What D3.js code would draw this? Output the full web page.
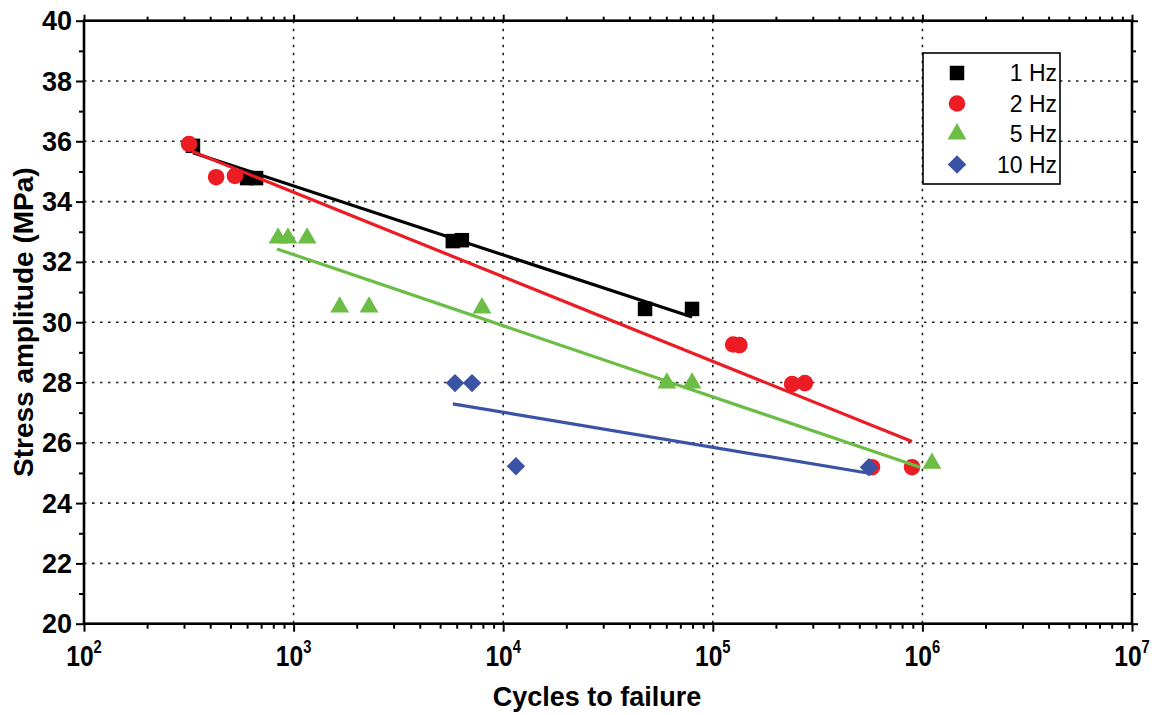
<!DOCTYPE html>
<html>
<head>
<meta charset="utf-8">
<script src="https://cdn.jsdelivr.net/npm/d3@7"></script>
<style>
  body { margin: 0; background: #fff; }
  svg { display: block; font-family: "Liberation Sans", Arial, sans-serif; }
</style>
</head>
<body>
<div id="chart"></div>
<script>
// Series names and colours
const seriesNames = ["1 Hz", "2 Hz", "5 Hz", "10 Hz"];
const seriesColors = ["#000000", "#ec1c24", "#6cbd45", "#3a53a4"];
const seriesShapes = ["square", "circle", "triangle", "diamond"];

// Measured points: cycles to failure / stress amplitude (MPa)
const cycles1Hz = [331, 600, 662, 5750, 6350, 47500, 79600];
const stress1Hz = [35.85, 34.78, 34.78, 32.69, 32.72, 30.44, 30.44];

const cycles2Hz = [317, 427, 525, 125000, 134000, 239000, 275000, 575000, 892000];
const stress2Hz = [35.91, 34.81, 34.85, 29.26, 29.24, 27.95, 27.98, 25.19, 25.19];

const cycles5Hz = [843, 940, 1160, 1660, 2290, 7920, 60400, 79600, 1110000];
const stress5Hz = [32.79, 32.79, 32.79, 30.50, 30.50, 30.47, 27.98, 27.98, 25.32];

const cycles10Hz = [5890, 7100, 11500, 556000];
const stress10Hz = [27.98, 27.98, 25.22, 25.19];

// Fitted lines, end points
const fitCycles = [[331, 79600], [327, 892000], [833, 975000], [5750, 556000]];
const fitStress = [[35.62, 30.17], [35.67, 26.04], [32.43, 25.19], [27.29, 24.99]];

// Axis ticks
const xMajor = [1e2, 1e3, 1e4, 1e5, 1e6, 1e7];
const xExp = [2, 3, 4, 5, 6, 7];
const yMajor = [20, 22, 24, 26, 28, 30, 32, 34, 36, 38, 40];
const yMinor = [21, 23, 25, 27, 29, 31, 33, 35, 37, 39];

const width = 1160, height = 715;
const plotLeft = 84, plotRight = 1132, plotTop = 20.7, plotBottom = 623.7;

const svg = d3.select("#chart").append("svg")
    .attr("width", width)
    .attr("height", height);

const x = d3.scaleLog().domain([1e2, 1e7]).range([plotLeft, plotRight]);
const y = d3.scaleLinear().domain([20, 40]).range([plotBottom, plotTop]);

// minor x ticks 2..9 in each decade
const xMinor = [];
for (let e = 2; e < 7; e++) {
    for (let k = 2; k <= 9; k++) xMinor.push(k * Math.pow(10, e));
}

// gridlines (dotted)
const grid = svg.append("g").attr("class", "grid");
grid.selectAll(".vgrid")
    .data(xMajor.slice(1, -1))
    .enter().append("line")
    .attr("x1", d => x(d)).attr("x2", d => x(d))
    .attr("y1", plotTop).attr("y2", plotBottom)
    .attr("stroke", "#222").attr("stroke-width", 1.6)
    .attr("stroke-dasharray", "2.5,5.5");
grid.selectAll(".hgrid")
    .data(yMajor.slice(1, -1))
    .enter().append("line")
    .attr("x1", plotLeft).attr("x2", plotRight)
    .attr("y1", d => y(d)).attr("y2", d => y(d))
    .attr("stroke", "#222").attr("stroke-width", 1.6)
    .attr("stroke-dasharray", "2.5,5.5");

// axes with outward ticks on all four sides
function styleAxis(g) {
    g.select(".domain").remove();
    g.selectAll(".tick line").attr("stroke", "#000").attr("stroke-width", 2);
    g.selectAll("text").remove();
}
svg.append("g").attr("transform", `translate(0,${plotBottom})`)
    .call(d3.axisBottom(x).tickValues(xMajor).tickSize(8)).call(styleAxis);
svg.append("g").attr("transform", `translate(0,${plotBottom})`)
    .call(d3.axisBottom(x).tickValues(xMinor).tickSize(5)).call(styleAxis);
svg.append("g").attr("transform", `translate(0,${plotTop})`)
    .call(d3.axisTop(x).tickValues(xMajor).tickSize(6)).call(styleAxis);
svg.append("g").attr("transform", `translate(0,${plotTop})`)
    .call(d3.axisTop(x).tickValues(xMinor).tickSize(4)).call(styleAxis);
svg.append("g").attr("transform", `translate(${plotLeft},0)`)
    .call(d3.axisLeft(y).tickValues(yMajor).tickSize(8)).call(styleAxis);
svg.append("g").attr("transform", `translate(${plotLeft},0)`)
    .call(d3.axisLeft(y).tickValues(yMinor).tickSize(5)).call(styleAxis);
svg.append("g").attr("transform", `translate(${plotRight},0)`)
    .call(d3.axisRight(y).tickValues(yMajor).tickSize(6)).call(styleAxis);
svg.append("g").attr("transform", `translate(${plotRight},0)`)
    .call(d3.axisRight(y).tickValues(yMinor).tickSize(4)).call(styleAxis);

// frame
svg.append("rect")
    .attr("x", plotLeft).attr("y", plotTop)
    .attr("width", plotRight - plotLeft).attr("height", plotBottom - plotTop)
    .attr("fill", "none").attr("stroke", "#000").attr("stroke-width", 2.6);

// y tick labels
svg.append("g").selectAll("text")
    .data(yMajor)
    .enter().append("text")
    .attr("x", 72).attr("y", d => y(d) + 9.5)
    .attr("text-anchor", "end")
    .style("font-size", "27px").style("font-weight", "bold")
    .text(d => d);

// x tick labels: 10 with superscript exponent, narrow face
const xl = svg.append("g").selectAll("text")
    .data(xMajor)
    .enter().append("text")
    .attr("transform", d => `translate(${x(d)},666) scale(0.82,1)`)
    .attr("text-anchor", "middle")
    .style("font-size", "30px").style("font-weight", "bold");
xl.append("tspan").text("10");
xl.append("tspan").attr("dy", -13).style("font-size", "18px").text((d, i) => xExp[i]);

// axis titles
svg.append("text")
    .attr("x", 597).attr("y", 706)
    .attr("text-anchor", "middle")
    .style("font-size", "27px").style("font-weight", "bold")
    .text("Cycles to failure");
svg.append("text")
    .attr("transform", `translate(33,${(plotTop + plotBottom) / 2}) rotate(-90)`)
    .attr("text-anchor", "middle")
    .style("font-size", "28px").style("font-weight", "bold")
    .text("Stress amplitude (MPa)");

// marker path generator
function markerPath(shape) {
    if (shape === "square") return d3.symbol(d3.symbolSquare, 210)();
    if (shape === "circle") return d3.symbol(d3.symbolCircle, 215)();
    if (shape === "triangle") return d3.symbol(d3.symbolTriangle, 155)();
    return d3.symbol(d3.symbolSquare, 170)();
}
function markerTransform(shape, px, py) {
    return shape === "diamond" ? `translate(${px},${py}) rotate(45)` : `translate(${px},${py})`;
}

const allCycles = [cycles1Hz, cycles2Hz, cycles5Hz, cycles10Hz];
const allStress = [stress1Hz, stress2Hz, stress5Hz, stress10Hz];

const line = d3.line().x(d => x(d[0])).y(d => y(d[1]));

seriesNames.forEach((name, s) => {
    const pts = allCycles[s].map((c, i) => [c, allStress[s][i]]);
    svg.append("g").selectAll("path")
        .data(pts)
        .enter().append("path")
        .attr("d", markerPath(seriesShapes[s]))
        .attr("transform", d => markerTransform(seriesShapes[s], x(d[0]), y(d[1])))
        .attr("fill", seriesColors[s]);

    const fit = fitCycles[s].map((c, i) => [c, fitStress[s][i]]);
    svg.append("path")
        .datum(fit)
        .attr("d", line)
        .attr("fill", "none")
        .attr("stroke", seriesColors[s])
        .attr("stroke-width", 3.2);
});

// legend
const legend = svg.append("g");
legend.append("rect")
    .attr("x", 923).attr("y", 53)
    .attr("width", 137).attr("height", 131)
    .attr("fill", "#fff").attr("stroke", "#000").attr("stroke-width", 1.6);
seriesNames.forEach((name, s) => {
    const ly = 73 + s * 30.5;
    legend.append("path")
        .attr("d", markerPath(seriesShapes[s]))
        .attr("transform", markerTransform(seriesShapes[s], 957, ly))
        .attr("fill", seriesColors[s]);
    legend.append("text")
        .attr("x", 1057).attr("y", ly + 8)
        .attr("text-anchor", "end")
        .style("font-size", "23px")
        .text(name);
});
</script>
</body>
</html>
